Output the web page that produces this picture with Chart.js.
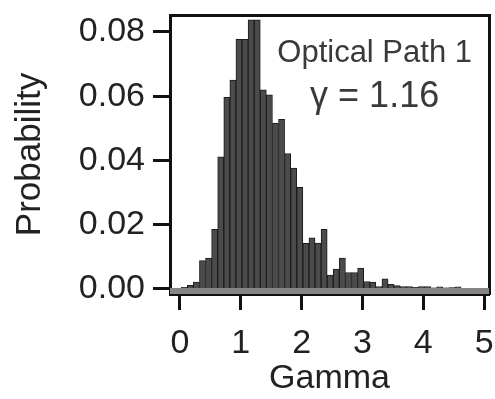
<!DOCTYPE html>
<html>
<head>
<meta charset="utf-8">
<script src="https://cdn.jsdelivr.net/npm/chart.js@4/dist/chart.umd.min.js"></script>
<style>
  html, body { margin: 0; padding: 0; background: #fff; }
  #wrap { width: 495px; height: 399px; }
</style>
</head>
<body>
<div id="wrap"><canvas id="chart"></canvas></div>
<script>
// ================== DATA ==================
// histogram bin centres (gamma) and probabilities
const gammaBins = [
  0.07, 0.17, 0.27, 0.37, 0.47, 0.57, 0.67, 0.77, 0.87, 0.97,
  1.07, 1.17, 1.27, 1.37, 1.47, 1.57, 1.67, 1.77, 1.87, 1.97,
  2.07, 2.17, 2.27, 2.37, 2.47, 2.57, 2.67, 2.77, 2.87, 2.97,
  3.07, 3.17, 3.27, 3.37, 3.47, 3.57, 3.67, 3.77, 3.87, 3.97,
  4.07, 4.17, 4.27, 4.37, 4.47, 4.57
];
const probability = [
  0.0004, 0.0010, 0.0020, 0.0087, 0.0095, 0.0185, 0.0411, 0.0596, 0.0650, 0.0777,
  0.0777, 0.0838, 0.0838, 0.0620, 0.0604, 0.0516, 0.0528, 0.0421, 0.0376, 0.0316,
  0.0141, 0.0158, 0.0142, 0.0185, 0.0042, 0.0061, 0.0095, 0.0050, 0.0050, 0.0064,
  0.0022, 0.0020, 0.0006, 0.0030, 0.0013, 0.0009, 0.0006, 0.0006, 0.0004, 0.0006,
  0.0006, 0.0002, 0.0005, 0.0002, 0.0003, 0.0005
];
const xTicks = [0, 1, 2, 3, 4, 5];
const yTicks = [0.00, 0.02, 0.04, 0.06, 0.08];
const annotation = ["Optical Path 1", "\u03B3 = 1.16"];

// ================== AXIS RANGES ==================
const X_MIN = -0.164, X_MAX = 5.08;
const Y_MIN = -0.0017, Y_MAX = 0.0853;
const FONT = "'Liberation Sans', Arial, Helvetica, sans-serif";

// annotation text anchors, in data units
const noteAt = { x: 3.2, y1: 0.0705, y2: 0.0565 };

const barData = gammaBins.map((g, i) => ({ x: g, y: probability[i] }));

// ================== PLUGINS ==================
const notePlugin = {
  id: 'note',
  afterDatasetsDraw(chart){
    const {ctx, scales} = chart;
    const x = scales.x.getPixelForValue(noteAt.x);
    ctx.save();
    ctx.textAlign = 'center';
    ctx.textBaseline = 'alphabetic';
    ctx.fillStyle = '#3a3a3a';
    ctx.font = `31px ${FONT}`;
    ctx.fillText(annotation[0], x, scales.y.getPixelForValue(noteAt.y1));
    ctx.font = `36px ${FONT}`;
    ctx.fillText(annotation[1], x, scales.y.getPixelForValue(noteAt.y2));
    ctx.restore();
  }
};

// no label overflow padding, the frame sits where the picture has it
function noPad(s){
  s.paddingTop = 0; s.paddingBottom = 0; s.paddingLeft = 0; s.paddingRight = 0;
}

// ================== CHART ==================
const ctx = document.getElementById('chart').getContext('2d');
new Chart(ctx, {
  type: 'bar',
  data: {
    datasets: [
      {
        type: 'line',
        data: [{ x: X_MIN, y: -0.0008 }, { x: X_MAX, y: -0.0008 }],
        borderColor: '#858585',
        borderWidth: 6,
        pointRadius: 0,
        order: 0
      },
      {
        data: barData,
        backgroundColor: '#4b4b4b',
        borderColor: '#1c1c1c',
        borderWidth: 1,
        barPercentage: 1,
        categoryPercentage: 1,
        order: 1
      }
    ]
  },
  options: {
    responsive: true,
    maintainAspectRatio: false,
    animation: false,
    layout: { padding: { top: 15, right: 6, left: 0, bottom: 0 } },
    plugins: { legend: { display: false }, tooltip: { enabled: false } },
    scales: {
      x: {
        type: 'linear',
        offset: false,
        min: X_MIN, max: X_MAX,
        afterBuildTicks: s => { s.ticks = xTicks.map(v => ({ value: v })); },
        afterFit: s => { s.height = 105; noPad(s); },
        ticks: {
          color: '#222', font: { family: FONT, size: 34 }, padding: 13,
          maxRotation: 0, autoSkip: false,
          callback: v => String(v)
        },
        grid: { offset: false, drawOnChartArea: false, drawTicks: true, tickLength: 16, tickWidth: 3, tickColor: '#111' },
        border: { color: '#111', width: 3 },
        title: { display: true, text: 'Gamma', color: '#222', font: { family: FONT, size: 34 }, padding: { top: 0, bottom: 0 } }
      },
      y: {
        min: Y_MIN, max: Y_MAX,
        afterBuildTicks: s => { s.ticks = yTicks.map(v => ({ value: v })); },
        afterFit: s => { s.width = 170; noPad(s); },
        ticks: {
          color: '#222', font: { family: FONT, size: 34 }, padding: 8,
          callback: v => v.toFixed(2)
        },
        grid: { drawOnChartArea: false, drawTicks: true, tickLength: 17, tickWidth: 3, tickColor: '#111' },
        border: { color: '#111', width: 3 },
        title: { display: true, text: 'Probability', color: '#222', font: { family: FONT, size: 35 }, padding: { top: 9, bottom: 0 } }
      },
      x2: {
        type: 'linear', position: 'top', offset: false, min: X_MIN, max: X_MAX,
        ticks: { display: false }, grid: { display: false, drawTicks: false },
        border: { color: '#111', width: 3 },
        afterFit: s => { s.height = 0; noPad(s); }
      },
      y2: {
        position: 'right', min: Y_MIN, max: Y_MAX,
        ticks: { display: false }, grid: { display: false, drawTicks: false },
        border: { color: '#111', width: 3 },
        afterFit: s => { s.width = 0; noPad(s); }
      }
    }
  },
  plugins: [notePlugin]
});
</script>
</body>
</html>
